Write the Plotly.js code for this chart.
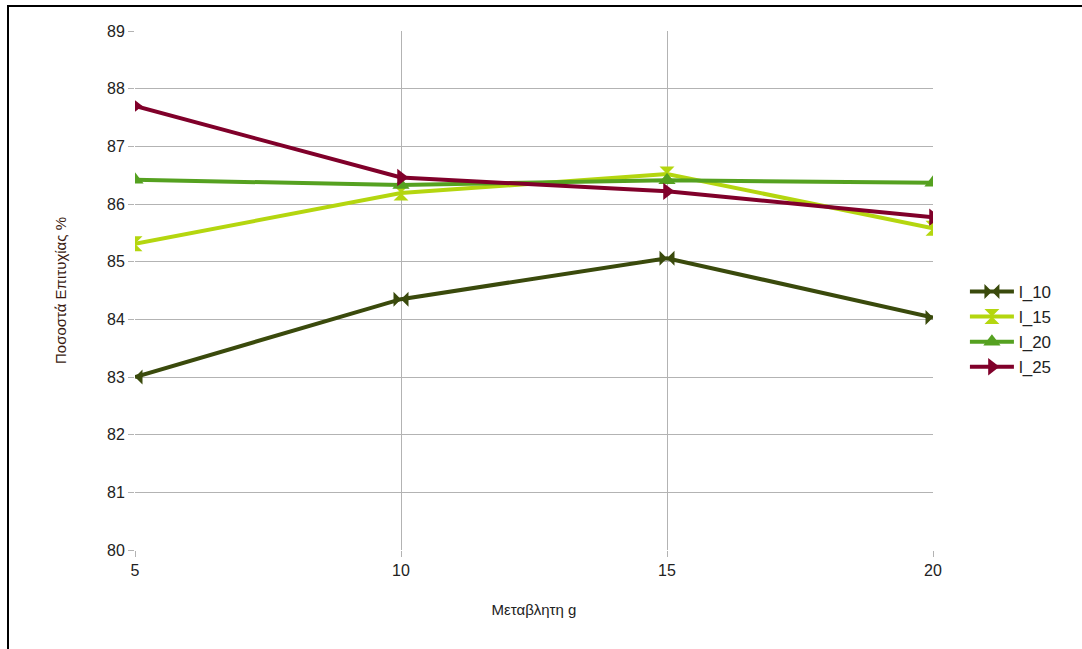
<!DOCTYPE html>
<html>
<head>
<meta charset="utf-8">
<script src="https://cdn.plot.ly/plotly-3.0.1.min.js"></script>
<style>
  html, body { margin: 0; padding: 0; background: #fff; }
  #frame { position: absolute; left: 7px; top: 5px; width: 1075px; height: 644px;
           border-top: 2px solid #000; border-left: 2px solid #000; box-sizing: border-box; }
  #chart { position: absolute; left: 0; top: 0; width: 1082px; height: 649px; }
</style>
</head>
<body>
<div id="chart"></div>
<div id="frame"></div>
<script>
const gValues = [5, 10, 15, 20];
const seriesNames = ["l_10", "l_15", "l_20", "l_25"];
const l10 = [83.0, 84.35, 85.06, 84.03];
const l15 = [85.31, 86.19, 86.52, 85.58];
const l20 = [86.42, 86.33, 86.41, 86.37];
const l25 = [87.70, 86.46, 86.22, 85.77];
const yTicks = [80, 81, 82, 83, 84, 85, 86, 87, 88, 89];

const colors = ["#3a4a0c", "#b4d60f", "#55a120", "#80002a"];
const symbols = ["bowtie", "hourglass", "triangle-up", "triangle-right"];
const values = [l10, l15, l20, l25];

const traces = values.map((v, i) => ({
  x: gValues, y: v, name: seriesNames[i], type: "scatter", mode: "lines+markers",
  line: { color: colors[i], width: 4 },
  marker: { symbol: symbols[i], size: 15, color: colors[i] }
}));

const layout = {
  width: 1082, height: 649,
  margin: { l: 135, r: 149, t: 31, b: 99 },
  paper_bgcolor: "#fff", plot_bgcolor: "#fff",
  font: { family: "Liberation Sans, Arial, sans-serif", color: "#333" },
  showlegend: true,
  legend: { x: 1.04, y: 0.425, xanchor: "left", yanchor: "middle",
            font: { size: 17, color: "#222" }, tracegroupgap: 0, itemwidth: 44 },
  xaxis: {
    range: [5, 20], tickvals: gValues, ticktext: gValues.map(String),
    showgrid: true, gridcolor: "#b3b3b3", gridwidth: 1,
    ticks: "outside", ticklen: 6, tickcolor: "#b3b3b3",
    showline: false, zeroline: false,
    tickfont: { size: 16, color: "#222" },
    title: { text: "Μεταβλητη g", font: { size: 15, color: "#222" }, standoff: 26 }
  },
  yaxis: {
    range: [80, 89], tickvals: yTicks, ticktext: yTicks.map(String),
    showgrid: true, gridcolor: "#b3b3b3", gridwidth: 1,
    ticks: "outside", ticklen: 6, tickcolor: "#b3b3b3",
    showline: false, zeroline: false,
    tickfont: { size: 16, color: "#222" },
    title: { text: "Ποσοστά Επιτυχίας %", font: { size: 15, color: "#3a1a10" }, standoff: 36 }
  }
};

Plotly.newPlot("chart", traces, layout, { displayModeBar: false, staticPlot: true });
</script>
</body>
</html>
